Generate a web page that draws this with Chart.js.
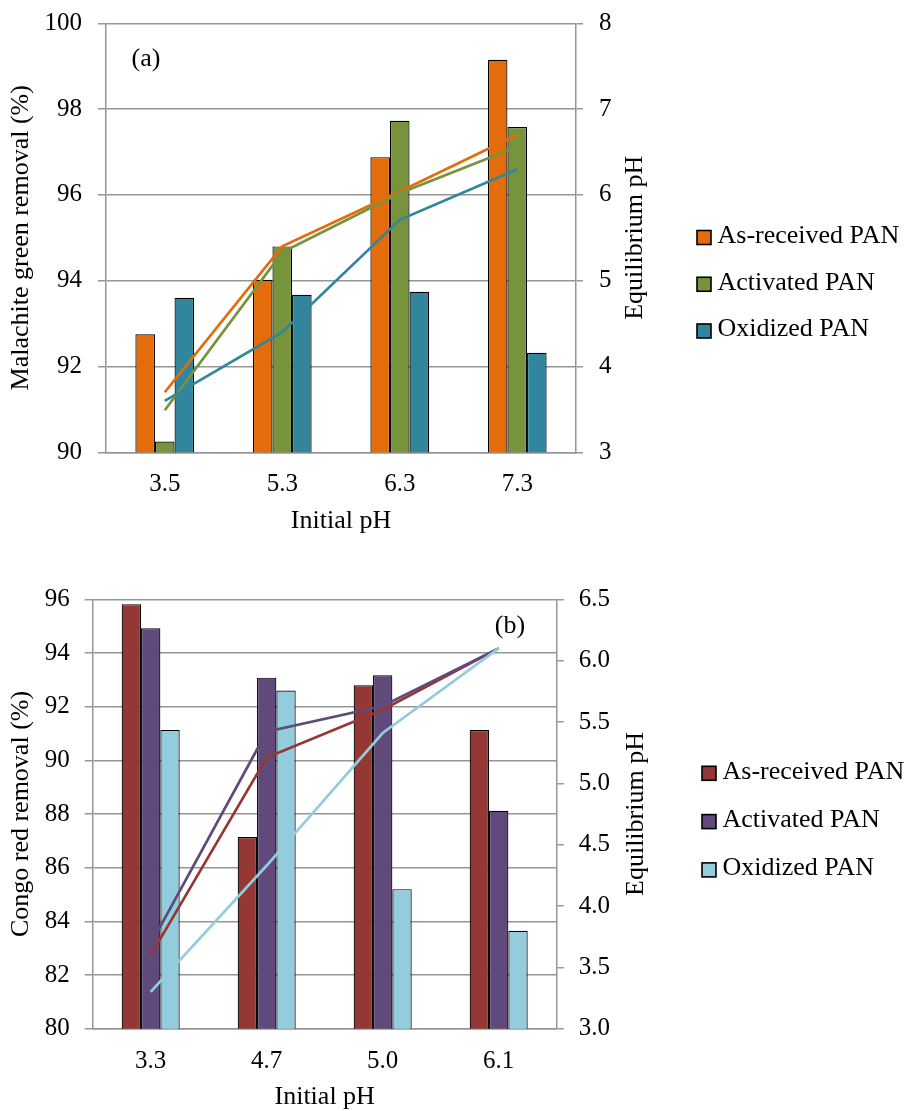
<!DOCTYPE html>
<html>
<head>
<meta charset="utf-8">
<script src="https://cdn.jsdelivr.net/npm/chart.js@4.4.1/dist/chart.umd.min.js"></script>
<style>
  html, body { margin: 0; padding: 0; background: #fff; overflow: hidden; width: 905px; height: 1111px; }
  .wrap { position: absolute; left: 0; width: 905px; }
  #w1 { top: 0; height: 560px; }
  #w2 { top: 560px; height: 600px; }
  canvas { display: block; }
</style>
</head>
<body>
<div class="wrap" id="w1"><canvas id="c1" width="905" height="560"></canvas></div>
<div class="wrap" id="w2"><canvas id="c2" width="905" height="600"></canvas></div>
<script>
// ---------------- DATA ----------------
const seriesNames = ['As-received PAN', 'Activated PAN', 'Oxidized PAN'];

// (a) Malachite green
const mgInitialPH = ['3.5', '5.3', '6.3', '7.3'];
const mgRemovalAsReceived = [92.75, 94.02, 96.88, 99.15];
const mgRemovalActivated  = [90.25, 94.80, 97.73, 97.58];
const mgRemovalOxidized   = [93.60, 93.67, 93.74, 92.32];
const mgEqPHAsReceived = [3.70, 5.40, 6.04, 6.70];
const mgEqPHActivated  = [3.49, 5.33, 6.02, 6.56];
const mgEqPHOxidized   = [3.60, 4.40, 5.71, 6.30];
const mgLeftTicks  = ['90', '92', '94', '96', '98', '100'];
const mgRightTicks = ['3', '4', '5', '6', '7', '8'];

// (b) Congo red
const crInitialPH = ['3.3', '4.7', '5.0', '6.1'];
const crRemovalAsReceived = [95.82, 87.14, 92.80, 91.13];
const crRemovalActivated  = [94.92, 93.08, 93.17, 88.12];
const crRemovalOxidized   = [91.13, 92.60, 85.20, 83.65];
const crEqPHAsReceived = [3.60, 5.21, 5.60, 6.10];
const crEqPHActivated  = [3.69, 5.42, 5.63, 6.10];
const crEqPHOxidized   = [3.30, 4.33, 5.41, 6.10];
const crLeftTicks  = ['80', '82', '84', '86', '88', '90', '92', '94', '96'];
const crRightTicks = ['3.0', '3.5', '4.0', '4.5', '5.0', '5.5', '6.0', '6.5'];

// ---------------- STYLE ----------------
const FONT = '"Liberation Serif", "Times New Roman", serif';
Chart.defaults.font.family = FONT;
Chart.defaults.color = '#000';
const GRID = '#969696';

const extrasPlugin = {
  id: 'extras',
  afterDraw(chart, args, o) {
    const ctx = chart.ctx, ca = chart.chartArea, y2 = chart.scales.y2;
    ctx.save();
    ctx.fillStyle = '#000';
    ctx.font = o.titleSize + 'px ' + FONT;
    // right axis title (reads bottom to top)
    ctx.save();
    ctx.translate(y2.left + o.rightTitleOffset, (ca.top + ca.bottom) / 2);
    ctx.rotate(-Math.PI / 2);
    ctx.textAlign = 'center';
    ctx.textBaseline = 'middle';
    ctx.fillText(o.rightTitle, 0, 0);
    ctx.restore();
    // panel label
    ctx.textAlign = 'center';
    ctx.textBaseline = 'middle';
    ctx.fillText(o.panel, ca.left + o.panelDx, ca.top + o.panelDy);
    // legend (bar series only)
    const bars = chart.data.datasets.filter(d => d.type === 'bar');
    ctx.textAlign = 'left';
    bars.forEach((d, i) => {
      const cy = o.legendY + i * o.legendGap;
      ctx.fillStyle = d.backgroundColor;
      ctx.fillRect(o.legendX, cy - 7, 14, 14);
      ctx.lineWidth = 1.6;
      ctx.strokeStyle = '#000';
      ctx.strokeRect(o.legendX, cy - 7, 14, 14);
      ctx.fillStyle = '#000';
      ctx.fillText(d.label, o.legendX + 20.5, cy - 1.5);
    });
    ctx.restore();
  }
};

function buildConfig(p) {
  const datasets = [];
  p.bars.forEach((b, i) => datasets.push({
    type: 'bar', label: seriesNames[i], data: b,
    backgroundColor: p.barColors[i], borderColor: '#000', borderWidth: 1.2,
    borderSkipped: false, yAxisID: 'y', order: 10,
    barPercentage: 1, categoryPercentage: 0.5
  }));
  p.lines.forEach((l, i) => datasets.push({
    type: 'line', label: seriesNames[i] + ' (equilibrium pH)', data: l,
    borderColor: p.lineColors[i], backgroundColor: p.lineColors[i],
    borderWidth: 2.7, pointRadius: 0, tension: 0, fill: false,
    yAxisID: 'y2', order: 5 - i
  }));
  return {
    type: 'bar',
    data: { labels: p.categories, datasets },
    options: {
      responsive: false, animation: false, events: [],
      layout: { autoPadding: false, padding: { left: 0, top: p.top, right: p.padRight, bottom: p.padBottom } },
      plugins: {
        legend: { display: false }, tooltip: { enabled: false },
        extras: {
          titleSize: 26, rightTitle: 'Equilibrium pH', rightTitleOffset: p.rightTitleOffset,
          panel: p.panel, panelDx: p.panelDx, panelDy: p.panelDy,
          legendX: p.legendX, legendY: p.legendY, legendGap: p.legendGap
        }
      },
      scales: {
        x: {
          grid: { display: false, drawTicks: false },
          border: { display: true, color: GRID, width: 1.5 },
          ticks: { font: { size: 25 }, padding: 17.5, color: '#000' },
          title: { display: true, text: 'Initial pH', font: { size: 26 }, color: '#000', padding: { top: 0, bottom: 15.5 } },
          afterFit(s) { s.height = 100; s.paddingLeft = 0; s.paddingRight = 0; }
        },
        y: {
          position: 'left', min: p.yMin, max: p.yMax,
          ticks: { stepSize: p.yStep, font: { size: 25 }, padding: p.yPad, color: '#000',
                   callback: (v, i) => p.leftTicks[i] },
          grid: { color: GRID, lineWidth: 1.5, tickLength: 8 },
          border: { color: GRID, width: 1.5 },
          title: { display: true, text: p.leftTitle, font: { size: 26 }, color: '#000', padding: { top: 6, bottom: 0 } },
          afterFit(s) { s.width = p.left; s.paddingTop = 0; s.paddingBottom = 0; }
        },
        y2: {
          position: 'right', min: p.y2Min, max: p.y2Max,
          ticks: { stepSize: p.y2Step, font: { size: 25 }, padding: p.y2Pad, color: '#000',
                   callback: (v, i) => p.rightTicks[i] },
          grid: { drawOnChartArea: false, color: GRID, lineWidth: 1.5, tickLength: 7 },
          border: { color: GRID, width: 1.5 },
          afterFit(s) { s.width = 80; s.paddingTop = 0; s.paddingBottom = 0; }
        }
      }
    },
    plugins: [extrasPlugin]
  };
}

new Chart(document.getElementById('c1'), buildConfig({
  categories: mgInitialPH,
  bars: [mgRemovalAsReceived, mgRemovalActivated, mgRemovalOxidized],
  lines: [mgEqPHAsReceived, mgEqPHActivated, mgEqPHOxidized],
  barColors: ['#E46C0A', '#77933C', '#31859C'],
  lineColors: ['#E46C0A', '#77933C', '#31859C'],
  leftTicks: mgLeftTicks, rightTicks: mgRightTicks,
  yMin: 90, yMax: 100, yStep: 2, y2Min: 3, y2Max: 8, y2Step: 1,
  leftTitle: 'Malachite green removal (%)',
  top: 23.3, left: 106, padRight: 905 - 576 - 80, padBottom: 560 - 452.3 - 100,
  yPad: 16, y2Pad: 16, rightTitleOffset: 59.5,
  panel: '(a)', panelDx: 40, panelDy: 35.5,
  legendX: 697, legendY: 237.5, legendGap: 46.75
}));

new Chart(document.getElementById('c2'), buildConfig({
  categories: crInitialPH,
  bars: [crRemovalAsReceived, crRemovalActivated, crRemovalOxidized],
  lines: [crEqPHAsReceived, crEqPHActivated, crEqPHOxidized],
  barColors: ['#953735', '#604A7B', '#93CDDD'],
  lineColors: ['#953735', '#604A7B', '#93CDDD'],
  leftTicks: crLeftTicks, rightTicks: crRightTicks,
  yMin: 80, yMax: 96, yStep: 2, y2Min: 3, y2Max: 6.5, y2Step: 0.5,
  leftTitle: 'Congo red removal (%)',
  top: 39.3, left: 92.7, padRight: 905 - 556.7 - 80, padBottom: 600 - 468.7 - 100,
  yPad: 15, y2Pad: 15, rightTitleOffset: 79,
  panel: '(b)', panelDx: 417.3, panelDy: 27.2,
  legendX: 702, legendY: 213.3, legendGap: 48.3
}));
</script>
</body>
</html>
